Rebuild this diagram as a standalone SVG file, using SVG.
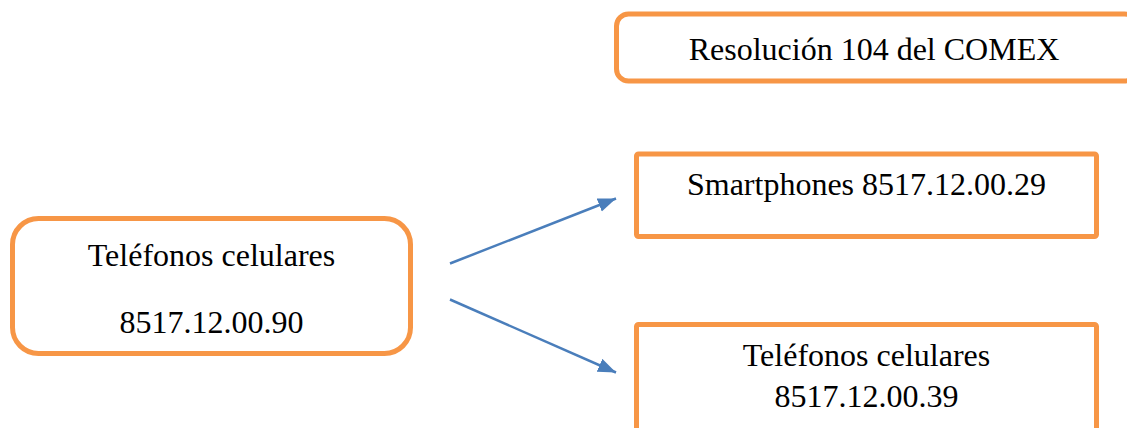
<svg xmlns="http://www.w3.org/2000/svg" width="1127" height="428" viewBox="0 0 1127 428">
<style>
.box{fill:#ffffff;stroke:#f79646;stroke-width:5}
.t{font-family:"Liberation Serif","Times New Roman",serif;font-size:32px;fill:#000000;text-anchor:middle}
.conn{stroke:#4a7ebb;stroke-width:2.5;fill:none}
</style>
<defs>
<marker id="arr" markerUnits="userSpaceOnUse" markerWidth="20" markerHeight="16" refX="18" refY="7" orient="auto" viewBox="0 0 20 16">
<path d="M0,0 L18,7 L0,14 Z" fill="#4a7ebb"/>
</marker>
</defs>
<rect width="1127" height="428" fill="#ffffff"/>
<g id="node-resolucion">
<rect class="box" x="616.5" y="14" width="520" height="67" rx="12" ry="12"/>
<text class="t" x="874" y="60">Resolución 104 del COMEX</text>
</g>
<g id="node-telefonos-90">
<rect class="box" x="12.5" y="218.5" width="398" height="135" rx="26" ry="26"/>
<text class="t" x="211.5" y="266">Teléfonos celulares</text>
<text class="t" x="211.5" y="333">8517.12.00.90</text>
</g>
<g id="node-smartphones">
<rect class="box" x="636.5" y="154" width="460" height="82.5" rx="2" ry="2"/>
<text class="t" x="866.5" y="195">Smartphones 8517.12.00.29</text>
</g>
<g id="node-telefonos-39">
<rect class="box" x="636.5" y="324.5" width="460" height="120" rx="2" ry="2"/>
<text class="t" x="866.5" y="366">Teléfonos celulares</text>
<text class="t" x="866.5" y="407">8517.12.00.39</text>
</g>
<g id="connectors">
<line class="conn" x1="450" y1="263.5" x2="616" y2="198.5" marker-end="url(#arr)"/>
<line class="conn" x1="450" y1="299.5" x2="616" y2="372.5" marker-end="url(#arr)"/>
</g>
</svg>
